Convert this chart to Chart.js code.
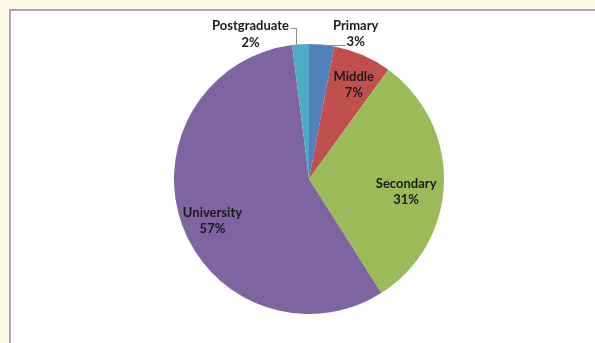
<!DOCTYPE html>
<html>
<head>
<meta charset="utf-8">
<script src="https://cdn.jsdelivr.net/npm/chart.js@4/dist/chart.umd.min.js"></script>
<style>
  html, body { margin: 0; padding: 0; width: 595px; height: 343px; overflow: hidden; background: #fefbe8; }
  #frame { position: absolute; left: 9px; top: 9px; width: 700px; height: 500px; background: #ffffff; border: 2px solid #a8a8a8; box-sizing: border-box; }
  #chart { position: absolute; left: 0; top: 0; }
</style>
</head>
<body>
<div id="frame"></div>
<canvas id="chart" width="595" height="343"></canvas>
<script>
// Education level shares (percent)
const categories = ['Primary', 'Middle', 'Secondary', 'University', 'Postgraduate'];
const shares = [3, 7, 31, 57, 2];
const sliceColors = ['#4f81bd', '#c0504d', '#9bbb59', '#8064a2', '#4bacc6'];

// How each data label sits relative to its slice:
// inside labels use a fraction of the radius along the slice bisector,
// outside labels are offset from the rim point and joined by a leader line.
const labelPlacement = {
  Primary:      { outside: true, dx: 34, dy: -11, leader: [[-1, 0], [23, 0]] },
  Middle:       { f: 0.76, dx: 4, dy: 0 },
  Secondary:    { f: 0.72, dx: 0, dy: 10 },
  University:   { f: 0.76, dx: 0, dy: 7 },
  Postgraduate: { outside: true, dx: -50, dy: -10, leader: [[-5, 0], [-5, -16], [-11, -16]] }
};

const dataLabels = {
  id: 'dataLabels',
  afterDatasetsDraw(chart) {
    const ctx = chart.ctx;
    const meta = chart.getDatasetMeta(0);
    const values = chart.data.datasets[0].data;
    const total = values.reduce((a, b) => a + b, 0);
    ctx.save();
    ctx.font = 'bold 13px Lato, "Open Sans", sans-serif';
    ctx.fillStyle = '#1a1a1a';
    ctx.textAlign = 'center';
    ctx.textBaseline = 'middle';
    meta.data.forEach((arc, i) => {
      const p = arc.getProps(['x', 'y', 'startAngle', 'endAngle', 'outerRadius'], true);
      const mid = (p.startAngle + p.endAngle) / 2;
      const name = chart.data.labels[i];
      const place = labelPlacement[name];
      let lx, ly;
      if (place.outside) {
        const ex = p.x + Math.cos(mid) * p.outerRadius;
        const ey = p.y + Math.sin(mid) * p.outerRadius;
        ctx.beginPath();
        ctx.strokeStyle = '#8c8c8c';
        ctx.lineWidth = 1;
        place.leader.forEach((pt, k) => {
          const px = Math.round(ex + pt[0]) + 0.5;
          const py = Math.round(ey + pt[1]) + 0.5;
          if (k === 0) ctx.moveTo(px, py); else ctx.lineTo(px, py);
        });
        ctx.stroke();
        lx = ex + place.dx;
        ly = ey + place.dy;
      } else {
        lx = p.x + Math.cos(mid) * p.outerRadius * place.f + place.dx;
        ly = p.y + Math.sin(mid) * p.outerRadius * place.f + place.dy;
      }
      const pct = Math.round(values[i] / total * 100) + '%';
      ctx.fillText(name, lx, ly - 8.25);
      ctx.fillText(pct, lx, ly + 8.25);
    });
    ctx.restore();
  }
};

new Chart(document.getElementById('chart'), {
  type: 'pie',
  data: {
    labels: categories,
    datasets: [{
      data: shares,
      backgroundColor: sliceColors,
      borderWidth: 0
    }]
  },
  options: {
    responsive: false,
    animation: false,
    layout: { padding: { left: 174, right: 151, top: 44, bottom: 29 } },
    plugins: {
      legend: { display: false },
      tooltip: { enabled: false }
    }
  },
  plugins: [dataLabels]
});
</script>
</body>
</html>
